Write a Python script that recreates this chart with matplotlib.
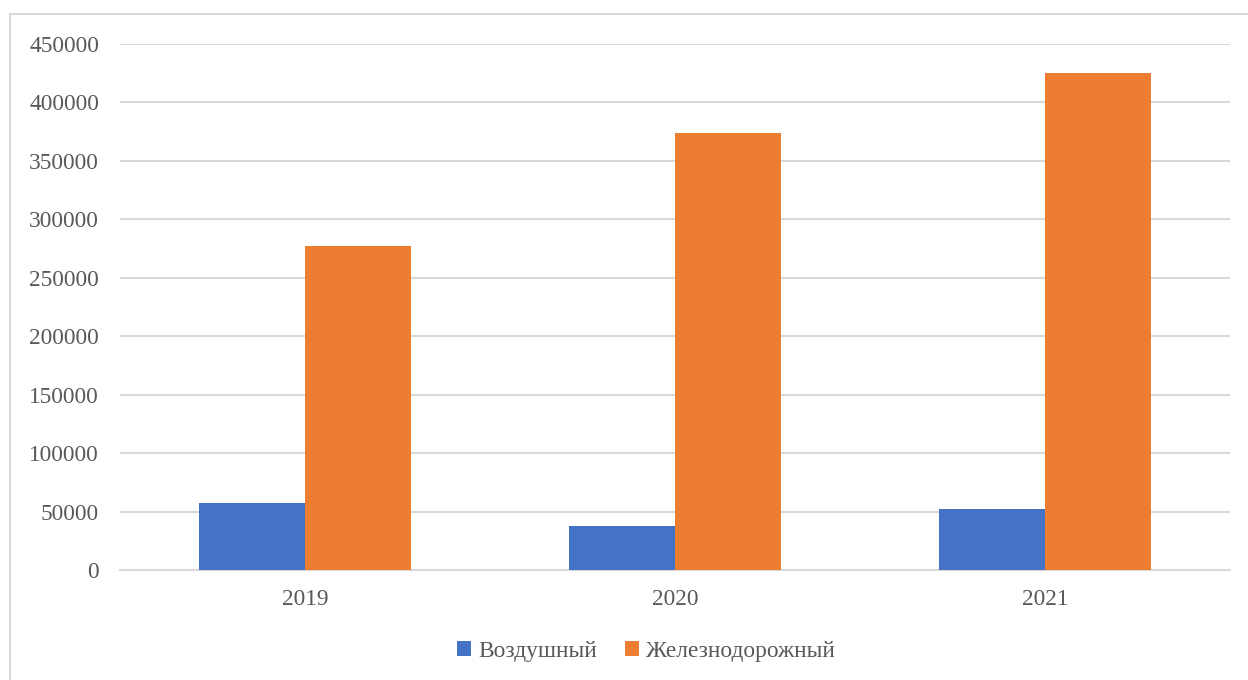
import matplotlib
matplotlib.use("Agg")
import matplotlib.pyplot as plt
from matplotlib.lines import Line2D
import numpy as np

years = ["2019", "2020", "2021"]
air = [57500, 37300, 52300]
rail = [277300, 374000, 424800]
series_names = ["Воздушный", "Железнодорожный"]
yticks = [0, 50000, 100000, 150000, 200000, 250000, 300000, 350000, 400000, 450000]

blue = "#4472C4"
orange = "#ED7D31"
text_color = "#595959"
grid_color = "#D9D9D9"

plt.rcParams['font.family'] = ['Liberation Serif', 'DejaVu Serif']

W, H = 1248, 680
fig = plt.figure(figsize=(W/100, H/100), dpi=100)
ax = fig.add_axes([120/W, 1-570/H, 1110/W, 526/H])

x = np.arange(len(years))
bw = 106/370
ax.bar(x - bw/2, air, width=bw, color=blue, label=series_names[0], zorder=3)
ax.bar(x + bw/2, rail, width=bw, color=orange, label=series_names[1], zorder=3)

fs = 16.8
ax.set_xlim(-0.5, len(years)-0.5)
ax.set_ylim(0, 450000)
ax.set_yticks(yticks)
ax.set_yticklabels([str(v) for v in yticks])
ax.set_xticks(x)
ax.set_xticklabels(years)
ax.tick_params(axis='both', length=0, labelsize=fs, colors=text_color)
ax.tick_params(axis='y', pad=15)
ax.tick_params(axis='x', pad=14)
ax.grid(axis='y', color=grid_color, linewidth=1.5, zorder=0)
for s in ['top', 'right', 'left']:
    ax.spines[s].set_visible(False)
ax.spines['bottom'].set_color(grid_color)
ax.spines['bottom'].set_linewidth(1.5)

leg = fig.legend(loc='center', bbox_to_anchor=(646/W, 1-651/H), ncol=2, frameon=False,
                 fontsize=fs, handlelength=0.6, handleheight=0.6, handletextpad=0.3,
                 columnspacing=1.2)
for t in leg.get_texts():
    t.set_color(text_color)

# outer border
fig.add_artist(Line2D([10/W, 1], [1-14/H, 1-14/H], transform=fig.transFigure, color=grid_color, linewidth=1.5))
fig.add_artist(Line2D([10/W, 10/W], [0, 1-14/H], transform=fig.transFigure, color=grid_color, linewidth=1.5))

fig.savefig("out.png", dpi=100, facecolor="white")
